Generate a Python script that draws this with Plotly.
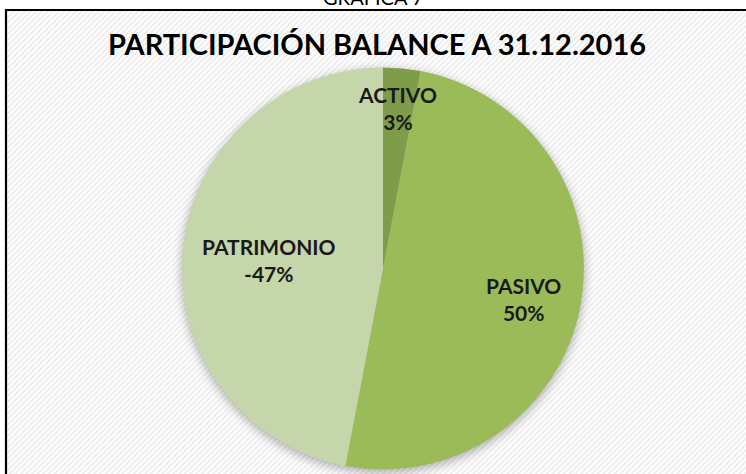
import base64
import plotly.graph_objects as go

# ---- data ----
labels = ["ACTIVO", "PASIVO", "PATRIMONIO"]
shares = [3, 50, -47]          # participation in %, as labelled
colors = ["#7f9c4a", "#9bbb59", "#c5d6aa"]
title_text = "PARTICIPACIÓN BALANCE A 31.12.2016"
caption_text = "GRAFICA 7"

W, H = 746, 474
def px(x): return x / W
def py(y): return 1 - y / H

# label positions (pixel centres of the label blocks)
label_pos = [(397, 108), (523, 299), (269, 260)]

# pie geometry (pixels)
cx, cy, r = 383, 268.5, 201

# background: striped chart area + soft shadow under the pie
bx, by = 7, 11
bw, bh = W - bx, H - by
svg = f'''<svg xmlns="http://www.w3.org/2000/svg" width="{bw}" height="{bh}" viewBox="0 0 {bw} {bh}">
<defs>
<pattern id="p" width="4" height="4" patternUnits="userSpaceOnUse" patternTransform="rotate(45)">
<rect width="4" height="4" fill="#ffffff"/><rect width="2" height="4" fill="#eeeeee"/>
</pattern>
<filter id="b" x="-20%" y="-20%" width="140%" height="140%"><feGaussianBlur stdDeviation="5"/></filter>
</defs>
<rect width="{bw}" height="{bh}" fill="url(#p)"/>
<circle cx="{cx - bx}" cy="{cy - by + 3}" r="{r + 1}" fill="#000" fill-opacity="0.28" filter="url(#b)"/>
</svg>'''
src = "data:image/svg+xml;base64," + base64.b64encode(svg.encode()).decode()

fig = go.Figure()
fig.add_trace(go.Pie(
    labels=labels,
    values=[abs(v) for v in shares],
    marker=dict(colors=colors, line=dict(width=0)),
    sort=False,
    direction="clockwise",
    rotation=0,
    textinfo="none",
    hoverinfo="label+percent",
    showlegend=False,
    domain=dict(x=[px(cx - r), px(cx + r)], y=[py(cy + r), py(cy - r)]),
))

font_family = "Lato, Carlito, Calibri, sans-serif"
annotations = [
    dict(text=f"<b>{title_text}</b>", x=px(377), y=py(44), xref="paper", yref="paper",
         xanchor="center", yanchor="middle", showarrow=False,
         font=dict(family=font_family, size=29, color="#000000")),
    dict(text=caption_text, x=px(373), y=py(11), xref="paper", yref="paper",
         xanchor="center", yanchor="bottom", showarrow=False,
         font=dict(family=font_family, size=20, color="#000000")),
]
for lab, v, (lx, ly) in zip(labels, shares, label_pos):
    annotations.append(dict(
        text=f"<b>{lab}</b><br><b>{v}%</b>", x=px(lx), y=py(ly), xref="paper", yref="paper",
        xanchor="center", yanchor="middle", showarrow=False, align="center",
        font=dict(family=font_family, size=21, color="#1a1a1a")))

fig.update_layout(
    width=W, height=H,
    margin=dict(l=0, r=0, t=0, b=0),
    paper_bgcolor="#ffffff",
    plot_bgcolor="#ffffff",
    images=[dict(source=src, xref="paper", yref="paper", x=px(bx), y=py(by),
                 sizex=bw / W, sizey=bh / H, sizing="stretch", layer="below",
                 xanchor="left", yanchor="top")],
    shapes=[dict(type="rect", xref="paper", yref="paper",
                 x0=px(6), y0=py(H + 20), x1=px(W + 20), y1=py(10),
                 line=dict(color="#000000", width=2.2), fillcolor="rgba(0,0,0,0)",
                 layer="below")],
    annotations=annotations,
)

fig.write_html(
    "out.html",
    config={"displayModeBar": False},
    post_script="document.body.style.margin='0px';document.body.style.overflow='hidden';",
)
